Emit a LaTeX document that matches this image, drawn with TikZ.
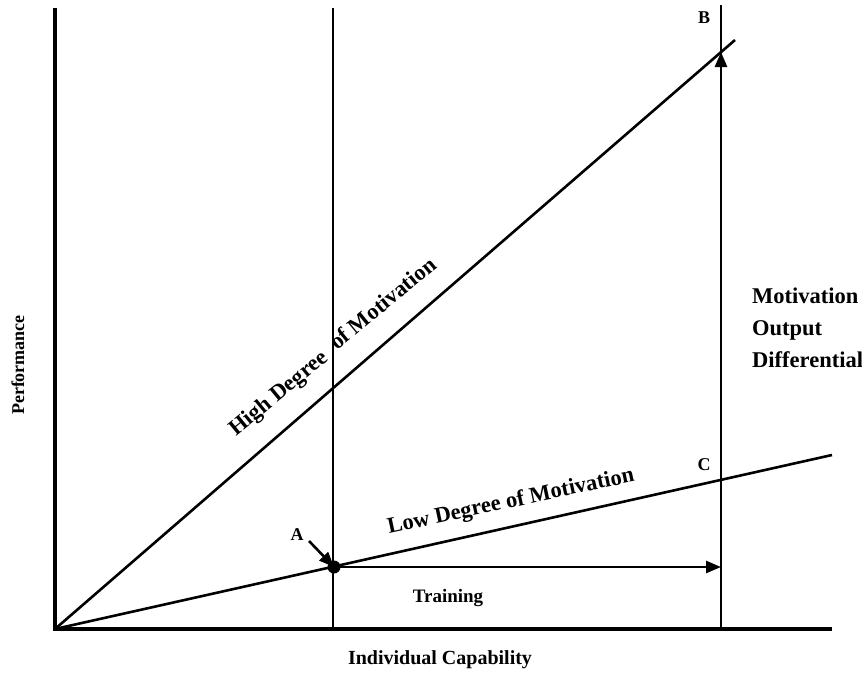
\documentclass[tikz,border=0pt]{standalone}
\usepackage{fontspec}
\setmainfont{Liberation Serif}
\usetikzlibrary{arrows.meta}
\begin{document}
\begin{tikzpicture}[x=1pt,y=-1pt,
  axis/.style={line width=3.4pt},
  guide/.style={line width=2.8pt},
  trend/.style={line width=2.6pt},
  pointer/.style={line width=2.6pt,-{Triangle[length=15pt,width=12pt]}},
  lbl/.style={font=\bfseries\fontsize{20}{24}\selectfont,inner sep=1pt},
  slant/.style={font=\bfseries\fontsize{22.5}{26}\selectfont,inner sep=0pt,rotate=39.5},
  letter/.style={font=\bfseries\fontsize{18}{21}\selectfont,inner sep=1pt}]
\useasboundingbox (0,0) rectangle (862,675);
% key points
\coordinate (O) at (55,629);
\coordinate (Ytop) at (55,8);
\coordinate (Xend) at (832,629);
\coordinate (V1top) at (333,8);
\coordinate (V1bot) at (333,629);
\coordinate (V2top) at (721,5);
\coordinate (V2bot) at (721,629);
\coordinate (Hend) at (735,40);
\coordinate (Lend) at (832,455);
\coordinate (A) at (334,567);
\coordinate (B) at (721,52);
\coordinate (C) at (721,481);
\coordinate (T) at (721,567);
% axes
\draw[axis] (Ytop) -- (O) -- (Xend);
% vertical guides
\draw[guide] (V1top) -- (V1bot);
\draw[guide] (V2top) -- (V2bot);
% motivation lines
\draw[trend] (O) -- (Hend);
\draw[trend] (O) -- (Lend);
% point A and arrows
\fill (A) circle (6.5pt);
\draw[pointer] (A) -- (T);
\draw[pointer] (C) -- (B);
\coordinate (Atail) at (309,541);
\draw[pointer] (Atail) -- (A);
% labels
\node[letter] (la) at (297,535) {A};
\node[letter] (lb) at (704,18) {B};
\node[letter] (lc) at (704,465) {C};
\node[slant,anchor=base east] (high1) at (329,360) {High Degree};
\node[slant,anchor=base west] (high2) at (337,351) {of Motivation};
\node[lbl,font=\bfseries\fontsize{22.5}{26}\selectfont,rotate=12] (low) at (511,502) {Low Degree of Motivation};
\node[lbl,font=\bfseries\fontsize{19}{22}\selectfont] (train) at (448,598) {Training};
\node[lbl,rotate=90,font=\bfseries\fontsize{18}{22}\selectfont] (perf) at (18,365) {Performance};
\node[lbl] (cap) at (440,660) {Individual Capability};
\node[lbl,anchor=west,align=left,font=\bfseries\fontsize{22.5}{32}\selectfont] (mod) at (751,328) {Motivation\\Output\\Differential};
\end{tikzpicture}
\end{document}
